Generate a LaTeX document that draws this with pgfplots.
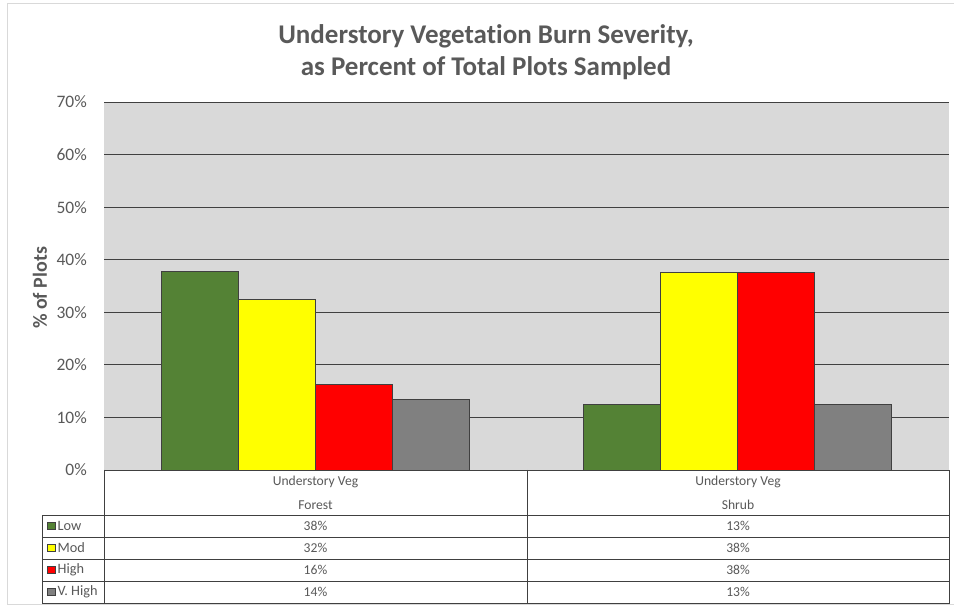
\documentclass[border=0pt]{standalone}
\usepackage{pgfplots}
\pgfplotsset{compat=1.18}
\usepackage{fontspec}
\setmainfont{Carlito}[RawFeature={-liga;-clig;-dlig;-calt}]
\definecolor{cgreen}{RGB}{84,130,53}
\definecolor{cyel}{RGB}{255,255,0}
\definecolor{cred}{RGB}{255,0,0}
\definecolor{cgray}{RGB}{128,128,128}
\definecolor{bgg}{RGB}{217,217,217}
\definecolor{txt}{RGB}{89,89,89}
\definecolor{gridc}{RGB}{64,64,64}
\begin{document}
\begin{tikzpicture}[x=1pt,y=1pt]
\path[use as bounding box] (0,0) rectangle (954,607);
\draw[bgg, line width=1pt] (7,2) -- (7,603) -- (954,603);
\draw[bgg, line width=1pt] (7,2) -- (954,2);
\node[anchor=base, text=txt, font=\fontsize{27}{31}\selectfont\bfseries] at (486,563) {Understory Vegetat\kern0pt ion Burn Severity,};
\node[anchor=base, text=txt, font=\fontsize{27}{31}\selectfont\bfseries] at (486,531) {as Percent of Total Plots Sampled};
\node[rotate=90, text=txt, font=\fontsize{20}{24}\selectfont\bfseries] at (40,319) {\% of Plots};
\begin{axis}[
  at={(104pt,137pt)}, anchor=south west, scale only axis,
  width=845pt, height=368pt,
  xmin=-0.5, xmax=1.5, ymin=0, ymax=0.7,
  xtick=\empty,
  ytick={0,0.1,0.2,0.3,0.4,0.5,0.6,0.7},
  yticklabels={0\%,10\%,20\%,30\%,40\%,50\%,60\%,70\%},
  /pgf/number format/assume math mode=true,
  ymajorgrids, grid style={gridc, line width=0.9pt},
  axis line style={draw=none}, major tick length=0pt,
  axis background/.style={fill=bgg},
  yticklabel style={font=\fontsize{17.5}{20}\selectfont, text=txt, anchor=east, inner sep=0pt, xshift=-17pt},
  ybar, bar width=0.1822,
  every axis plot/.append style={draw=gridc, line width=0.8pt},
]
\addplot[fill=cgreen, bar shift=-0.2734] coordinates {(0,0.378) (1,0.125)};
\addplot[fill=cyel, bar shift=-0.0911] coordinates {(0,0.324) (1,0.375)};
\addplot[fill=cred, bar shift=0.0911] coordinates {(0,0.162) (1,0.375)};
\addplot[fill=cgray, bar shift=0.2734] coordinates {(0,0.135) (1,0.125)};
\end{axis}
\begin{scope}[draw=gridc, line width=0.8pt]
\fill[white] (104,137) rectangle (949,4);
\fill[white] (42.7,92) rectangle (104,4);
\draw (104,137) rectangle (949,92);
\draw (42.7,92) rectangle (949,4);
\foreach \y in {70,48,26} \draw (42.7,\y) -- (949,\y);
\draw (104,137) -- (104,4);
\draw (527,137) -- (527,4);
\end{scope}
\begin{scope}[font=\fontsize{13.6}{15}\selectfont, text=txt]
\node at (315.5,125) {Understory Veg};
\node at (315.5,102) {Forest};
\node at (738,125) {Understory Veg};
\node at (738,102) {Shrub};
\node at (315.5,81) {38\%};
\node at (315.5,59) {32\%};
\node at (315.5,37) {16\%};
\node at (315.5,15) {14\%};
\node at (738,81) {13\%};
\node at (738,59) {38\%};
\node at (738,37) {38\%};
\node at (738,15) {13\%};
\foreach \c/\l/\y in {cgreen/Low/81, cyel/Mod/59, cred/High/37, cgray/V. High/15}{
  \draw[fill=\c, draw=gridc, line width=0.7pt] (47.7,\y-3.7) rectangle (55,\y+3.7);
  \node[anchor=west, inner sep=0pt, font=\fontsize{14.3}{16}\selectfont] at (57.5,\y) {\l};
}
\end{scope}
\end{tikzpicture}
\end{document}
